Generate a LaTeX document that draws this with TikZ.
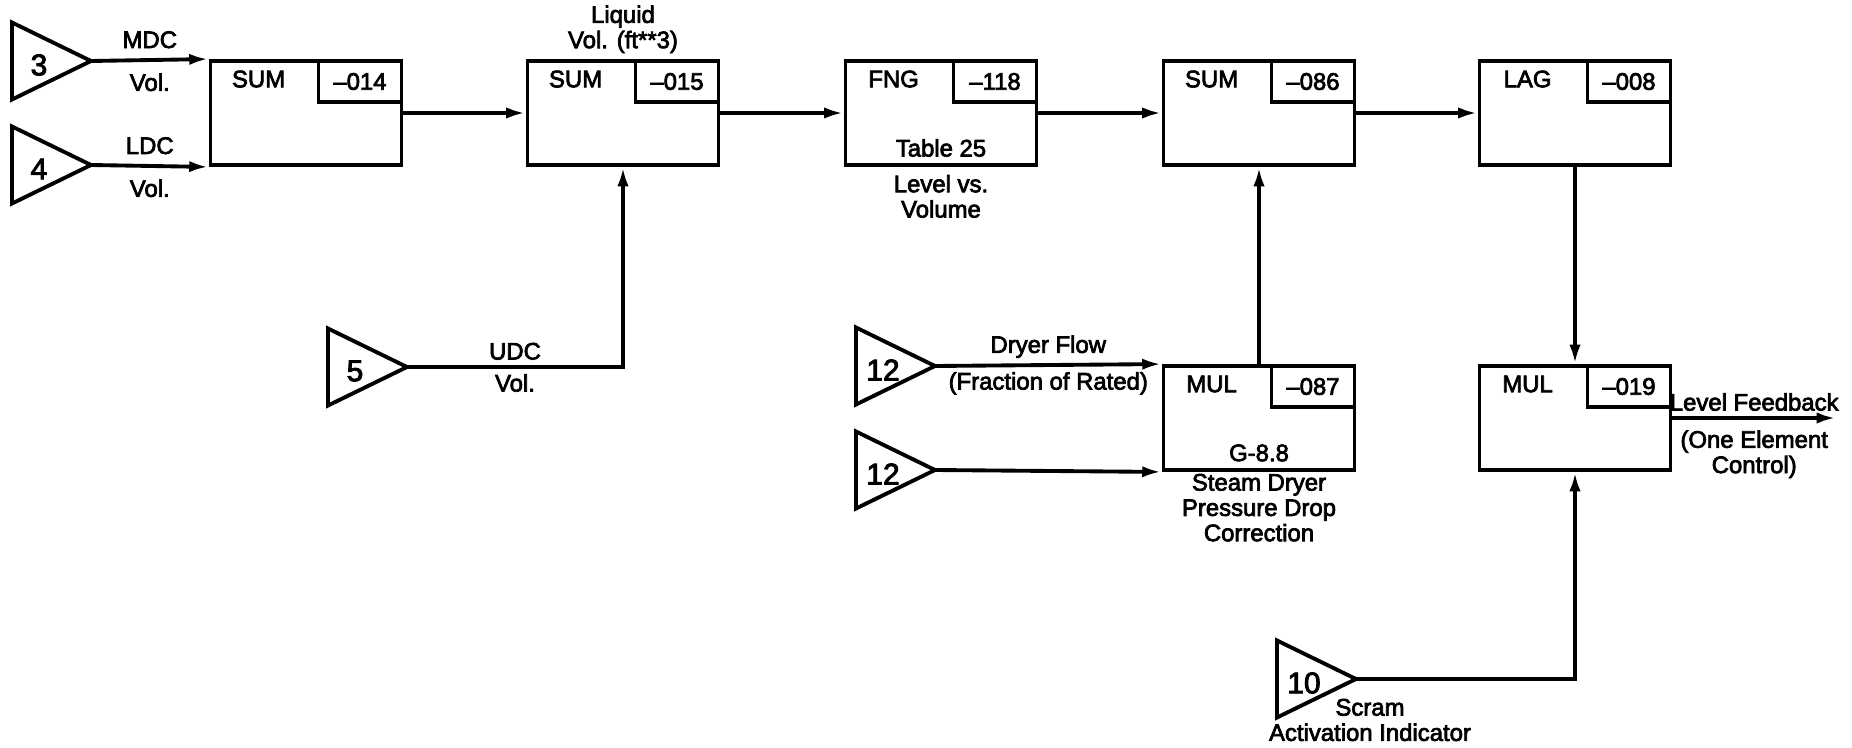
\documentclass[tikz,border=0pt]{standalone}
\usepackage{fontspec}
\setmainfont{Liberation Sans}
\newfontfamily\lettering{Liberation Sans}[FakeBold=3]
\usetikzlibrary{arrows.meta,positioning,calc}

\begin{document}
\begin{tikzpicture}[
  thk/.style={line width=1.1pt},
  arr/.style={thk,-{Latex[length=5.5pt,width=3.2pt]}},
  lab/.style={font=\lettering\fontsize{6.8}{7.2}\selectfont,align=center,inner sep=1.5pt},
  num/.style={font=\lettering\fontsize{8.5}{9}\selectfont,inner sep=0pt},
  blk/.style={draw,thk,minimum width=1.91cm,minimum height=1.04cm,inner sep=0pt},
  tag/.style={draw,thk,lab,anchor=north east,minimum width=0.83cm,minimum height=0.41cm,inner sep=0pt}]

\useasboundingbox (0,0) rectangle (18.52,7.47);

%% blocks
\node[blk] (s014) at (3.06,6.34) {};
\node[blk] (s015) at (6.23,6.34) {};
\node[blk] (f118) at (9.41,6.34) {};
\node[blk] (s086) at (12.59,6.34) {};
\node[blk] (l008) at (15.75,6.34) {};
\node[blk] (m087) at (12.59,3.29) {};
\node[blk] (m019) at (15.75,3.29) {};
\foreach \b/\f/\t in {s014/SUM/–014,s015/SUM/–015,f118/FNG/–118,s086/SUM/–086,
                      l008/LAG/–008,m087/MUL/–087,m019/MUL/–019} {
  \node[lab] (\b-fn) at ($(\b.north west)+(0.5,-0.2)$) {\f};
  \node[tag] (\b-tg) at (\b.north east) {\t};
}
\node[lab] (f118-par) at ($(f118.south)+(0,0.19)$) {Table 25};
\node[lab] (m087-par) at ($(m087.south)+(0,0.19)$) {G-8.8};

%% inputs
\foreach \n/\x/\y/\v in {t3/0.91/6.86/3,t4/0.91/5.82/4,t5/4.07/3.80/5,
                         t12a/9.35/3.81/12,t12b/9.35/2.77/12,t10/13.56/0.68/10} {
  \coordinate (\n) at (\x,\y);
  \draw[thk] (\n) -- ++(-0.79,0.385) -- ++(0,-0.77) -- cycle;
  \node[num] (\n-v) at ($(\n)+(-0.52,-0.04)$) {\v};
}

%% signal lines
\draw[arr] (t3) -- node[lab,above=1.3pt] (l-mdc) {MDC} node[lab,below=1.8pt] (l-mvol) {Vol.} (s014.north west);
\draw[arr] (t4) -- node[lab,above=1.3pt] (l-ldc) {LDC} node[lab,below=1.8pt] (l-lvol) {Vol.} (s014.south west);
\draw[arr] (t5) -| node[lab,above,pos=0.25] (l-udc) {UDC} node[lab,below,pos=0.25] (l-uvol) {Vol.} (s015.south);
\draw[arr] (s014) -- (s015);
\draw[arr] (s015) -- (f118);
\draw[arr] (f118) -- (s086);
\draw[arr] (s086) -- (l008);
\draw[arr] (t12a) -- node[lab,above] (l-dry) {Dryer Flow} node[lab,below] (l-frac) {(Fraction of Rated)} (m087.north west);
\draw[arr] (t12b) -- (m087.south west);
\draw[arr] (m087) -- (s086);
\draw[arr] (l008) -- (m019);
\draw[arr] (t10) -| (m019.south);
\coordinate (fb) at (18.36,3.29);
\draw[arr] (m019.east) -- node[lab,above] (l-fb) {Level Feedback} node[lab,below=1.5pt] (l-one) {(One Element\\Control)} (fb);

%% notes
\node[lab,above=0cm of s015] (l-liq) {Liquid\\Vol. (ft**3)};
\node[lab,below=0.02cm of f118] (l-lvv) {Level vs.\\Volume};
\node[lab,below=-0.04cm of m087] (l-sdc) {Steam Dryer\\Pressure Drop\\Correction};
\node[lab] (l-scram) at (13.70,0.27) {Scram\\Activation Indicator};
\end{tikzpicture}
\end{document}
